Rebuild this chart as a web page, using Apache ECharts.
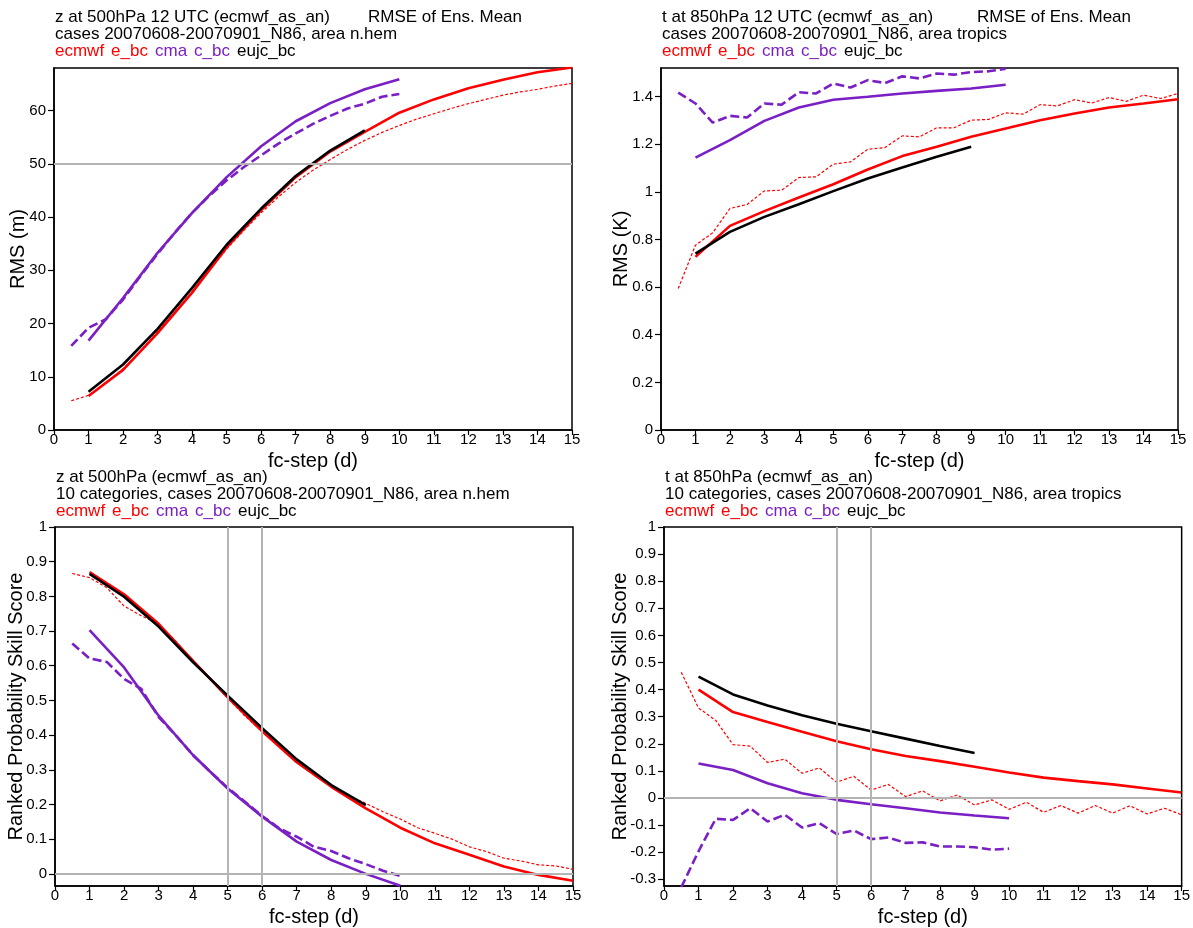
<!DOCTYPE html>
<html>
<head>
<meta charset="utf-8">
<script src="https://cdn.jsdelivr.net/npm/echarts@6/dist/echarts.min.js"></script>
<style>
  html, body { margin: 0; padding: 0; background: #fff; }
  #chart { width: 1193px; height: 928px; }
</style>
</head>
<body>
<div id="chart"></div>
<script>
// Forecast steps (days): 12-hourly for the raw ensembles, daily for the bias-corrected ones
const halfDays = [0.5, 1, 1.5, 2, 2.5, 3, 3.5, 4, 4.5, 5, 5.5, 6, 6.5, 7, 7.5, 8, 8.5, 9, 9.5, 10,
                  10.5, 11, 11.5, 12, 12.5, 13, 13.5, 14, 14.5, 15];
const halfDays10 = [0.5, 1, 1.5, 2, 2.5, 3, 3.5, 4, 4.5, 5, 5.5, 6, 6.5, 7, 7.5, 8, 8.5, 9, 9.5, 10];
const days15 = [1, 2, 3, 4, 5, 6, 7, 8, 9, 10, 11, 12, 13, 14, 15];
const days10 = [1, 2, 3, 4, 5, 6, 7, 8, 9, 10];
const days9 = [1, 2, 3, 4, 5, 6, 7, 8, 9];

// z500 RMSE of ensemble mean, n.hem (m)
const zRmsEcmwf = [5.5, 6.5, 8.8, 11.5, 14.8, 18.5, 22.2, 26.0, 30.0, 34.0, 37.5, 40.8, 43.8, 46.5, 48.8,
                   50.8, 52.7, 54.4, 55.9, 57.2, 58.4, 59.4, 60.4, 61.3, 62.1, 62.9, 63.5, 64.0, 64.6, 65.1];
const zRmsEbc = [6.4, 11.3, 18.2, 25.8, 34.3, 41.3, 47.5, 52.3, 56.0, 59.6, 62.1, 64.2, 65.8, 67.2, 68.1];
const zRmsCma = [15.8, 19.2, 20.8, 24.5, 28.9, 33.1, 37.1, 40.8, 44.0, 46.9, 49.4, 51.6, 53.8, 55.7, 57.5,
                 59.0, 60.4, 61.3, 62.6, 63.1];
const zRmsCbc = [16.8, 24.8, 33.3, 40.8, 47.5, 53.3, 58.0, 61.4, 64.0, 65.9];
const zRmsEujc = [7.2, 12.3, 19.0, 26.7, 34.8, 41.6, 47.7, 52.5, 56.3];

// t850 RMSE of ensemble mean, tropics (K)
const tRmsEcmwf = [0.594, 0.776, 0.828, 0.930, 0.947, 1.004, 1.007, 1.060, 1.063, 1.116, 1.126, 1.179,
                   1.186, 1.235, 1.231, 1.269, 1.269, 1.301, 1.304, 1.332, 1.326, 1.366, 1.361, 1.387,
                   1.373, 1.396, 1.380, 1.406, 1.392, 1.413];
const tRmsEbc = [0.727, 0.857, 0.919, 0.976, 1.032, 1.094, 1.150, 1.189, 1.231, 1.266, 1.301, 1.329,
                 1.354, 1.371, 1.389];
const tRmsCma = [1.417, 1.371, 1.291, 1.319, 1.312, 1.371, 1.366, 1.418, 1.413, 1.455, 1.438, 1.469,
                 1.457, 1.485, 1.476, 1.497, 1.492, 1.503, 1.506, 1.517];
const tRmsCbc = [1.144, 1.217, 1.298, 1.354, 1.387, 1.399, 1.413, 1.424, 1.434, 1.450];
const tRmsEujc = [0.741, 0.832, 0.895, 0.948, 1.003, 1.056, 1.102, 1.147, 1.189];

// z500 ranked probability skill score, n.hem
const zRpsEcmwf = [0.866, 0.854, 0.825, 0.772, 0.744, 0.720, 0.670, 0.612, 0.560, 0.507, 0.455, 0.410,
                   0.365, 0.322, 0.285, 0.252, 0.225, 0.203, 0.179, 0.158, 0.133, 0.117, 0.100, 0.078,
                   0.064, 0.045, 0.037, 0.026, 0.023, 0.013];
const zRpsEbc = [0.870, 0.806, 0.721, 0.614, 0.509, 0.411, 0.322, 0.251, 0.189, 0.133, 0.088, 0.055,
                 0.021, -0.003, -0.020];
const zRpsCma = [0.664, 0.621, 0.611, 0.562, 0.533, 0.452, 0.399, 0.342, 0.294, 0.248, 0.208, 0.167,
                 0.131, 0.107, 0.078, 0.066, 0.045, 0.028, 0.009, -0.006];
const zRpsCbc = [0.703, 0.595, 0.456, 0.342, 0.246, 0.165, 0.093, 0.040, 0.000, -0.034];
const zRpsEujc = [0.865, 0.799, 0.713, 0.610, 0.514, 0.420, 0.330, 0.256, 0.198];

// t850 ranked probability skill score, tropics
const tRpsEcmwf = [0.464, 0.332, 0.286, 0.197, 0.191, 0.131, 0.143, 0.091, 0.111, 0.058, 0.080, 0.029,
                   0.050, 0.005, 0.026, -0.011, 0.011, -0.026, -0.007, -0.042, -0.016, -0.053, -0.028,
                   -0.056, -0.028, -0.056, -0.029, -0.059, -0.038, -0.062];
const tRpsEbc = [0.400, 0.317, 0.280, 0.244, 0.209, 0.180, 0.155, 0.136, 0.115, 0.094, 0.075, 0.062,
                 0.050, 0.035, 0.020];
const tRpsCma = [-0.330, -0.197, -0.077, -0.081, -0.038, -0.087, -0.062, -0.109, -0.093, -0.133, -0.120,
                 -0.152, -0.146, -0.166, -0.164, -0.179, -0.179, -0.182, -0.191, -0.187];
const tRpsCbc = [0.127, 0.103, 0.054, 0.017, -0.007, -0.023, -0.038, -0.054, -0.065, -0.075];
const tRpsEujc = [0.448, 0.382, 0.341, 0.305, 0.274, 0.246, 0.219, 0.192, 0.166];

// Axis ticks
const zRmsTicks = [0, 10, 20, 30, 40, 50, 60];
const tRmsTicks = [0, 0.2, 0.4, 0.6, 0.8, 1, 1.2, 1.4];
const zRpsTicks = [0, 0.1, 0.2, 0.3, 0.4, 0.5, 0.6, 0.7, 0.8, 0.9, 1];
const tRpsTicks = [-0.3, -0.2, -0.1, 0, 0.1, 0.2, 0.3, 0.4, 0.5, 0.6, 0.7, 0.8, 0.9, 1];

const RED = '#ff0000';
const PURPLE = '#7a1fc4';
const FONT = 'Liberation Sans, Arial, sans-serif';
const TITLE_SIZE = 17;
const TICK_SIZE = 15;

const pairs = (xs, ys) => xs.map((x, i) => [x, ys[i]]);

const grids = [
  { left: 54, top: 68, width: 518, height: 362 },
  { left: 661, top: 68, width: 517, height: 362 },
  { left: 55, top: 527, width: 518, height: 361 },
  { left: 664, top: 527, width: 518, height: 361 }
];

function xAxis(i) {
  return {
    gridIndex: i, type: 'value', min: 0, max: 15, interval: 1,
    name: 'fc-step (d)', nameLocation: 'middle', nameGap: 21,
    nameTextStyle: { fontSize: 20, color: '#000', fontFamily: FONT, verticalAlign: 'top' },
    axisLine: { show: true, onZero: false, lineStyle: { color: '#000', width: 1.5 } },
    axisTick: { show: true, inside: false, length: 5, lineStyle: { color: '#000', width: 1.2 } },
    axisLabel: { fontSize: TICK_SIZE, color: '#000', fontFamily: FONT, margin: 2 },
    splitLine: { show: false }
  };
}

function yAxis(i, min, max, ticks, name, gap) {
  return {
    gridIndex: i, type: 'value', min: min, max: max,
    name: name, nameLocation: 'middle', nameGap: gap, nameRotate: 90, nameMoveOverlap: false,
    nameTextStyle: { fontSize: 20, color: '#000', fontFamily: FONT },
    axisLine: { show: true, onZero: false, lineStyle: { color: '#000', width: 1.5 } },
    axisTick: { show: true, inside: false, length: 6, customValues: ticks,
                lineStyle: { color: '#000', width: 1.2 } },
    axisLabel: { fontSize: TICK_SIZE, color: '#000', fontFamily: FONT, margin: 8, customValues: ticks },
    splitLine: { show: false }
  };
}

function line(i, name, data, color, kind) {
  const style = kind === 'thin'
    ? { color: color, width: 1.2, type: [3, 2] }
    : kind === 'dash'
      ? { color: color, width: 2.6, type: [9, 4] }
      : { color: color, width: 2.6, type: 'solid' };
  return {
    type: 'line', name: name, xAxisIndex: i, yAxisIndex: i, data: data,
    showSymbol: false, symbol: 'none', smooth: false, clip: true, z: 3,
    lineStyle: style, emphasis: { disabled: true }, animation: false
  };
}

function refLines(i, marks) {
  return {
    type: 'line', xAxisIndex: i, yAxisIndex: i, data: [], z: 1, silent: true,
    markLine: {
      silent: true, symbol: 'none', animation: false, label: { show: false },
      lineStyle: { color: '#b4b4b4', width: 2, type: 'solid' },
      data: marks
    }
  };
}

function panelSeries(i, ecmwf, ebc, cma, cbc, eujc, xEc, xCma) {
  return [
    line(i, 'ecmwf', pairs(xEc, ecmwf), RED, 'thin'),
    line(i, 'e_bc', pairs(days15, ebc), RED, 'solid'),
    line(i, 'cma', pairs(xCma, cma), PURPLE, 'dash'),
    line(i, 'c_bc', pairs(days10, cbc), PURPLE, 'solid'),
    line(i, 'eujc_bc', pairs(days9, eujc), '#000', 'solid')
  ];
}

const plainText = { fontSize: TITLE_SIZE, fontWeight: 'normal', color: '#000', fontFamily: FONT, lineHeight: 17 };
const legendRich = {
  r: { color: RED, fontSize: TITLE_SIZE, fontFamily: FONT },
  p: { color: PURPLE, fontSize: TITLE_SIZE, fontFamily: FONT },
  k: { color: '#000', fontSize: TITLE_SIZE, fontFamily: FONT },
  s: { width: 7, fontSize: TITLE_SIZE, fontFamily: FONT }
};
const legendLine = '{r|ecmwf}{s| }{r|e_bc}{s| }{p|cma}{s| }{p|c_bc}{s| }{k|eujc_bc}';

function header(left, top, lines) {
  return [
    { left: left, top: top, text: lines[0], textStyle: plainText, padding: 0 },
    { left: left, top: top + 17, text: lines[1], textStyle: plainText, padding: 0 },
    { left: left, top: top + 34, text: legendLine, padding: 0,
      textStyle: { fontSize: TITLE_SIZE, fontWeight: 'normal', fontFamily: FONT, lineHeight: 17, rich: legendRich } }
  ];
}

const titles = [].concat(
  header(55, 9, ['z at 500hPa 12 UTC (ecmwf_as_an)', 'cases 20070608-20070901_N86, area n.hem']),
  [{ left: 368, top: 9, text: 'RMSE of Ens. Mean', padding: 0, textStyle: plainText }],
  header(662, 9, ['t at 850hPa 12 UTC (ecmwf_as_an)', 'cases 20070608-20070901_N86, area tropics']),
  [{ left: 977, top: 9, text: 'RMSE of Ens. Mean', padding: 0, textStyle: plainText }],
  header(56, 469, ['z at 500hPa (ecmwf_as_an)', '10 categories, cases 20070608-20070901_N86, area n.hem']),
  header(665, 469, ['t at 850hPa (ecmwf_as_an)', '10 categories, cases 20070608-20070901_N86, area tropics'])
);

const option = {
  backgroundColor: '#fff',
  animation: false,
  title: titles,
  grid: grids.map(g => Object.assign({ show: true, borderColor: '#000', borderWidth: 1.5,
                                        backgroundColor: 'transparent' }, g)),
  xAxis: [xAxis(0), xAxis(1), xAxis(2), xAxis(3)],
  yAxis: [
    yAxis(0, 0, 68, zRmsTicks, 'RMS (m)', 26),
    yAxis(1, 0, 1.52, tRmsTicks, 'RMS (K)', 30),
    yAxis(2, -0.035, 1, zRpsTicks, 'Ranked Probability Skill Score', 29),
    yAxis(3, -0.325, 1, tRpsTicks, 'Ranked Probability Skill Score', 34)
  ],
  series: [].concat(
    [refLines(0, [{ yAxis: 50 }])],
    panelSeries(0, zRmsEcmwf, zRmsEbc, zRmsCma, zRmsCbc, zRmsEujc, halfDays, halfDays10),
    panelSeries(1, tRmsEcmwf, tRmsEbc, tRmsCma, tRmsCbc, tRmsEujc, halfDays, halfDays10),
    [refLines(2, [{ yAxis: 0 }, { xAxis: 5 }, { xAxis: 6 }])],
    panelSeries(2, zRpsEcmwf, zRpsEbc, zRpsCma, zRpsCbc, zRpsEujc, halfDays, halfDays10),
    [refLines(3, [{ yAxis: 0 }, { xAxis: 5 }, { xAxis: 6 }])],
    panelSeries(3, tRpsEcmwf, tRpsEbc, tRpsCma, tRpsCbc, tRpsEujc, halfDays, halfDays10)
  )
};

const chart = echarts.init(document.getElementById('chart'), null, { renderer: 'canvas' });
chart.setOption(option);
</script>
</body>
</html>
